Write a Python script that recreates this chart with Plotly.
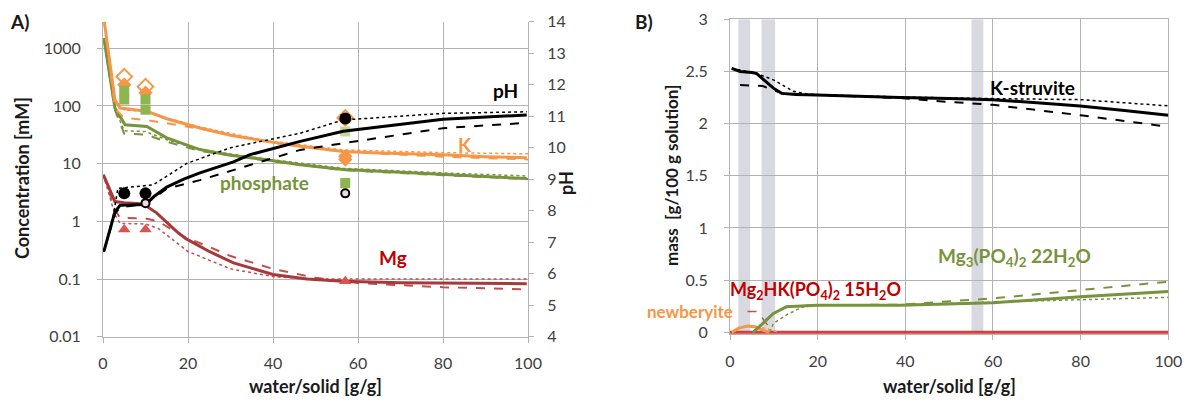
import plotly.graph_objects as go

# ---------------- Panel A data ----------------
k_x = [0.3, 2.8, 4, 6, 8, 10.3, 15, 22.8, 30, 38.5, 46.4, 56.5, 65, 80, 90, 99.7]
k_solid = [2900, 128, 92, 88, 85, 80.6, 60, 41.5, 31, 24.3, 20, 16.3, 15.3, 14.3, 13.2, 12.6]
k_dash_x = [0.3, 2.8, 5, 10, 15, 22.8, 38.5, 56.5, 80, 100]
k_dash = [2900, 90, 62, 57, 50, 40, 24, 16, 13.2, 11.8]
k_dot_x = [0.3, 2.8, 5, 10, 15, 22.8, 38.5, 56.5, 80, 100]
k_dot = [2900, 128, 85, 80, 62, 43, 25, 17.3, 15.5, 14.8]

p_x = [0.2, 2.8, 5.2, 10.3, 15, 22.8, 30, 38.5, 46.4, 56.5, 70, 80, 99.7]
p_solid = [1500, 92, 47, 44, 28, 17.5, 14, 11.7, 9.6, 7.9, 7.1, 6.5, 5.5]
p_dash_x = [0.2, 2.8, 5, 10, 15, 22.8, 38.5, 56.5, 80, 100]
p_dash = [1500, 85, 33, 32, 24, 16.5, 11.3, 7.7, 6.3, 5.4]
p_dot_x = [0.2, 2.8, 5, 10, 15, 22.8, 38.5, 56.5, 80, 100]
p_dot = [1500, 88, 37, 36, 26, 17.5, 12, 8.3, 6.9, 6.1]

mg_x = [0.1, 2.8, 5, 9.5, 12.6, 17.3, 19.5, 25, 30.7, 34.6, 40, 48, 56.5, 70, 99.7]
mg_solid = [6.4, 2.2, 2.1, 2.0, 1.4, 0.67, 0.5, 0.3, 0.19, 0.155, 0.12, 0.1, 0.091, 0.086, 0.083]
mg_dash_x = [0.1, 2.8, 4, 10, 13, 18.8, 25, 30, 40, 50, 60, 80, 100]
mg_dash = [6.4, 1.6, 1.15, 1.12, 1.0, 0.55, 0.36, 0.25, 0.15, 0.105, 0.085, 0.072, 0.066]
mg_dot_x = [0.1, 2.8, 4, 10, 13, 20, 30, 40, 50, 60, 100]
mg_dot = [6.4, 1.3, 0.92, 0.9, 0.75, 0.3, 0.15, 0.11, 0.1, 0.1, 0.1]

ph_x = [0.2, 2.8, 4, 10, 12, 15, 19, 22.8, 30.7, 34.6, 46.4, 56.5, 80, 99.7]
ph_solid = [6.7, 7.96, 8.17, 8.2, 8.45, 8.75, 9.0, 9.2, 9.55, 9.78, 10.2, 10.52, 10.9, 11.04]
ph_dash_x = [0.2, 2.8, 4, 10, 15, 22.8, 34.6, 46.4, 56.5, 80, 99.7]
ph_dash = [6.7, 7.9, 8.1, 8.22, 8.7, 8.97, 9.45, 9.93, 10.14, 10.62, 10.79]
ph_dot_x = [0.2, 2.5, 3.5, 11.8, 19.7, 30, 46.4, 56.5, 80, 99.7]
ph_dot = [6.7, 7.9, 8.71, 8.82, 9.5, 10.0, 10.46, 10.88, 11.09, 11.14]

# measured points
ph_meas_x = [5, 10, 57]
ph_meas = [8.55, 8.55, 10.93]
ph_open_x = [10, 57]
ph_open = [8.24, 8.55]
k_meas_x = [5, 10, 57, 57]
k_meas = [234, 170, 13.4, 11.8]
k_open_x = [5, 10, 57]
k_open = [322, 216, 62]
p_meas_x = [5, 5, 10, 10, 57]
p_meas = [184, 129, 129, 86, 4.6]
p_open_x = [57]
p_open = [36]
mg_meas_x = [5, 10, 57]
mg_meas = [0.72, 0.72, 0.091]

# ---------------- Panel B data ----------------
ks_x = [0.4, 2.3, 5, 6.1, 8, 9.9, 11.8, 15, 19.8, 30, 38.8, 50, 59.9, 70, 79.9, 90, 100]
ks_solid = [2.53, 2.50, 2.49, 2.48, 2.41, 2.34, 2.29, 2.28, 2.275, 2.26, 2.25, 2.24, 2.23, 2.20, 2.17, 2.125, 2.08]
ks_dash_x = [2.3, 7.5, 10, 12, 20, 38.8, 49.4, 60, 80, 100]
ks_dash = [2.37, 2.36, 2.32, 2.29, 2.275, 2.245, 2.21, 2.18, 2.08, 1.97]
ks_dot_x = [0.4, 5, 6.1, 9.9, 14.4, 18, 38.8, 60, 80, 100]
ks_dot = [2.53, 2.49, 2.48, 2.42, 2.31, 2.28, 2.255, 2.24, 2.23, 2.17]

mp_x = [5.3, 7, 9.9, 12.9, 19.8, 38.8, 50, 60, 80, 100]
mp_solid = [0, 0.07, 0.18, 0.245, 0.26, 0.26, 0.27, 0.284, 0.34, 0.39]
mp_dash_x = [5.3, 7, 9.9, 12.9, 19.8, 38.8, 60, 80, 100]
mp_dash = [0, 0.07, 0.18, 0.245, 0.26, 0.265, 0.325, 0.405, 0.485]
mp_dot_x = [9.1, 9.9, 13, 16, 17.5, 25, 40, 60, 80, 100]
mp_dot = [0, 0.086, 0.17, 0.23, 0.26, 0.265, 0.265, 0.29, 0.316, 0.335]

nb_x = [0.4, 2, 4, 6, 7.5, 9]
nb_solid = [0, 0.04, 0.06, 0.05, 0.02, 0]
nb_dot_x = [6, 8, 9.5, 11]
nb_dot = [0.05, 0.04, 0.02, 0]

mh_x = [0, 100]
mh_solid = [0, 0]
mh_dash_x = [4, 6.4, 8, 10]
mh_dash = [0.2, 0.2, 0.1, 0]

bands = [(1.9, 4.6), (7.2, 10.3), (55.1, 57.8)]

ORANGE = "#F79646"
GREEN = "#77933C"
MGRED = "#A8383A"
MGRED2 = "#C0504D"
BLACK = "#000000"
GRID = "#B3B3B3"
TICKC = "#404040"
FONT = "Lato"

W, H = 1192, 403
OFF = 8  # page body margin of the html page


def fx(px):
    return (px - OFF) / W


def fy(py):
    return 1 - (py - OFF) / H


fig = go.Figure()


def line(x, y, color, width, dash, xa, ya):
    fig.add_trace(go.Scatter(x=x, y=y, mode="lines", xaxis=xa, yaxis=ya,
                             line=dict(color=color, width=width, dash=dash),
                             hoverinfo="skip", showlegend=False))


def markers(x, y, symbol, color, size, xa, ya, lc=None, lw=0):
    fig.add_trace(go.Scatter(x=x, y=y, mode="markers", xaxis=xa, yaxis=ya,
                             marker=dict(symbol=symbol, color=color, size=size,
                                         line=dict(color=lc or color, width=lw)),
                             hoverinfo="skip", showlegend=False))


# Panel A lines
line(mg_dot_x, mg_dot, MGRED2, 1.5, "dot", "x", "y")
line(mg_dash_x, mg_dash, MGRED2, 2, "dash", "x", "y")
line(mg_x, mg_solid, MGRED, 3, "solid", "x", "y")
line(p_dot_x, p_dot, GREEN, 1.5, "dot", "x", "y")
line(p_dash_x, p_dash, GREEN, 2, "dash", "x", "y")
line(p_x, p_solid, GREEN, 3, "solid", "x", "y")
line(k_dot_x, k_dot, ORANGE, 1.5, "dot", "x", "y")
line(k_dash_x, k_dash, ORANGE, 2, "dash", "x", "y")
line(k_x, k_solid, ORANGE, 3, "solid", "x", "y")
line(ph_dot_x, ph_dot, BLACK, 1.5, "dot", "x", "y2")
line(ph_dash_x, ph_dash, BLACK, 2, "dash", "x", "y2")
line(ph_x, ph_solid, BLACK, 3, "solid", "x", "y2")

# Panel A markers
markers(k_open_x, k_open, "diamond-open", ORANGE, 12, "x", "y", lw=2)
markers(k_meas_x, k_meas, "diamond", ORANGE, 11, "x", "y")
markers(p_open_x, p_open, "square", "#C4D79B", 10, "x", "y")
markers(p_meas_x, p_meas, "square", "#8DB550", 10, "x", "y")
markers(mg_meas_x, mg_meas, "triangle-up", "#D9534F", 11, "x", "y")
markers(ph_open_x, ph_open, "circle", "#F2DCDB", 8, "x", "y2", lc=BLACK, lw=2)
markers(ph_meas_x, ph_meas, "circle", BLACK, 12, "x", "y2")

# Panel B lines
line(mh_x, mh_solid, "#D0403D", 3, "solid", "x2", "y3")
line(mh_dash_x, mh_dash, MGRED2, 1.5, "dash", "x2", "y3")
line(nb_dot_x, nb_dot, ORANGE, 1.5, "dot", "x2", "y3")
line(nb_x, nb_solid, ORANGE, 3, "solid", "x2", "y3")
line(mp_dot_x, mp_dot, GREEN, 1.5, "dot", "x2", "y3")
line(mp_dash_x, mp_dash, GREEN, 2, "dash", "x2", "y3")
line(mp_x, mp_solid, GREEN, 3, "solid", "x2", "y3")
line(ks_dot_x, ks_dot, BLACK, 1.5, "dot", "x2", "y3")
line(ks_dash_x, ks_dash, BLACK, 2, "dash", "x2", "y3")
line(ks_x, ks_solid, BLACK, 3, "solid", "x2", "y3")

shapes = []
for b0, b1 in bands:
    shapes.append(dict(type="rect", xref="x2", yref="y3", x0=b0, x1=b1, y0=0, y1=3,
                       fillcolor="#D9D9E1", line=dict(width=0), layer="below"))

tickfont = dict(family=FONT, size=16, color=TICKC)
xticks = [0, 20, 40, 60, 80, 100]

ax_common = dict(showgrid=True, gridcolor=GRID, gridwidth=1, zeroline=False,
                 showline=True, linecolor=GRID, linewidth=1, ticks="outside",
                 ticklen=5, tickcolor=GRID, tickfont=tickfont, automargin=False,
                 layer="below traces")

# panel B: a little room below 0 so the 0-line is not half clipped
b_px_per_unit = (332.3 - 19.3) / 3
b_pad = 2.0  # pixels

fig.update_layout(
    width=W, height=H,
    margin=dict(l=0, r=0, t=0, b=0, pad=0, autoexpand=False),
    paper_bgcolor="white", plot_bgcolor="white",
    showlegend=False,
    shapes=shapes,
    xaxis=dict(domain=[fx(103), fx(528)], range=[0, 100], tickvals=xticks,
               ticklabelstandoff=7, anchor="y", **ax_common),
    yaxis=dict(domain=[fy(336.7), fy(21.7)], type="log", range=[-2, 3.46],
               tickvals=[0.01, 0.1, 1, 10, 100, 1000],
               ticktext=["0.01", "0.1", "1", "10", "100", "1000"],
               ticklabelstandoff=13, anchor="x", **ax_common),
    yaxis2=dict(overlaying="y", side="right", anchor="x", range=[4, 14], dtick=1,
                showgrid=False, zeroline=False, showline=True, linecolor=GRID,
                ticks="outside", ticklen=5, tickcolor=GRID, tickfont=tickfont,
                ticklabelstandoff=10, automargin=False),
    xaxis2=dict(domain=[fx(730), fx(1168.3)], range=[0, 100], tickvals=xticks,
                ticklabelstandoff=7, anchor="y3", mirror=True, **ax_common),
    yaxis3=dict(domain=[fy(332.3 + b_pad), fy(19.3)], range=[-b_pad / b_px_per_unit, 3],
                tickvals=[0, 0.5, 1, 1.5, 2, 2.5, 3],
                ticktext=["0", "0.5", "1", "1.5", "2", "2.5", "3"],
                ticklabelstandoff=13, anchor="x2", mirror=True, **ax_common),
)

# page-positioned texts (pixel positions in the photographed page)
page_texts = [
    ("<b>A)</b>", 19, 22, 0, 19, "#1a1a1a"),
    ("<b>B)</b>", 644, 22, 0, 19, "#1a1a1a"),
    ("<b>Concentration [mM]</b>", 22, 178, -90, 18, "#1a1a1a"),
    ("<b>pH</b>", 566, 183, -90, 18, "#1a1a1a"),
    ("<b>water/solid [g/g]</b>", 315, 386, 0, 18, "#1a1a1a"),
    ("<b>water/solid [g/g]</b>", 949, 386, 0, 18, "#1a1a1a"),
    ("<b>mass  [g/100 g solution]</b>", 672, 176, -90, 17, "#1a1a1a"),
    ("<b>newberyite</b>", 690, 311, 0, 17, ORANGE),
]
out = []
for t, px, py, ang, sz, col in page_texts:
    out.append(dict(text=t, x=fx(px), y=fy(py),
                    xref="paper", yref="paper", showarrow=False,
                    textangle=ang, xanchor="center", yanchor="middle",
                    font=dict(family=FONT, size=sz, color=col)))

# series labels (data coordinates)
lab = [
    ("<b>pH</b>", 94.8, 11.83, "x", "y2", BLACK, 19),
    ("<b>K</b>", 85.2, 10.09, "x", "y2", ORANGE, 19),
    ("<b>phosphate</b>", 37.9, 8.91, "x", "y2", GREEN, 19),
    ("<b>Mg</b>", 68.2, 6.53, "x", "y2", "#C00000", 19),
    ("<b>K-struvite</b>", 69.1, 2.35, "x2", "y3", BLACK, 19),
    ("<b>Mg<sub>3</sub>(PO<sub>4</sub>)<sub>2</sub> 22H<sub>2</sub>O</b>", 65, 0.72, "x2", "y3", GREEN, 19),
    ("<b>Mg<sub>2</sub>HK(PO<sub>4</sub>)<sub>2</sub> 15H<sub>2</sub>O</b>", 19.5, 0.40, "x2", "y3", "#C00000", 18),
]
for t, x, y, xr, yr, c, s in lab:
    out.append(dict(text=t, x=x, y=y, xref=xr, yref=yr, showarrow=False,
                    xanchor="center", yanchor="middle",
                    font=dict(family=FONT, size=s, color=c)))

fig.update_layout(annotations=out)
fig.write_html("out.html")
